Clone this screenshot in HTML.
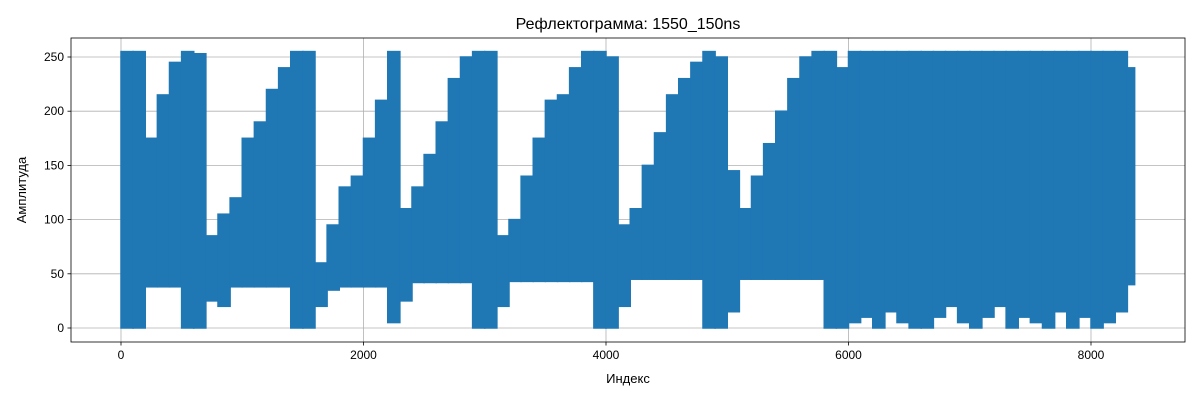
<!DOCTYPE html>
<html><head><meta charset="utf-8"><style>
body{margin:0;background:#fff;font-family:"Liberation Sans","DejaVu Sans",sans-serif}
svg text{font-family:"Liberation Sans","DejaVu Sans",sans-serif;fill:#000}
</style></head><body>
<svg id="chart" width="1200" height="400">
<rect x="0" y="0" width="1200" height="400" fill="#fff"/>
<g id="grid"></g><g id="marks"></g><g id="axes"></g>
<text x="628" y="29" font-size="16" text-anchor="middle">Рефлектограмма: 1550_150ns</text>
<text x="628" y="383" font-size="13" text-anchor="middle">Индекс</text>
<text x="26" y="190" font-size="13" text-anchor="middle" transform="rotate(-90 26 190)">Амплитуда</text>
</svg>
<script>
const binStarts=[0,100,200,300,400,500,600,700,800,900,1000,1100,1200,1300,1400,1500,1600,1700,1800,1900,2000,2100,2200,2300,2400,2500,2600,2700,2800,2900,3000,3100,3200,3300,3400,3500,3600,3700,3800,3900,4000,4100,4200,4300,4400,4500,4600,4700,4800,4900,5000,5100,5200,5300,5400,5500,5600,5700,5800,5900,6000,6100,6200,6300,6400,6500,6600,6700,6800,6900,7000,7100,7200,7300,7400,7500,7600,7700,7800,7900,8000,8100,8200,8300];
const lowValues=[0,0,38,38,38,0,0,25,20,38,38,38,38,38,0,0,20,35,38,38,38,38,5,25,42,42,42,42,42,0,0,20,43,43,43,43,43,43,43,0,0,20,45,45,45,45,45,45,0,0,15,45,45,45,45,45,45,45,0,0,5,10,0,15,5,0,0,10,20,5,0,10,20,0,10,5,0,15,0,10,0,5,15,40];
const highValues=[255,255,175,215,245,255,253,85,105,120,175,190,220,240,255,255,60,95,130,140,175,210,255,110,130,160,190,230,250,255,255,85,100,140,175,210,215,240,255,255,250,95,110,150,180,215,230,245,255,250,145,110,140,170,200,230,250,255,255,240,255,255,255,255,255,255,255,255,255,255,255,255,255,255,255,255,255,255,255,255,255,255,255,240];
const lastIndex=8360;
const xTicks=[0,2000,4000,6000,8000];
const yTicks=[0,50,100,150,200,250];
const L=71,R=1185,T=38,B=342;
const x=v=>121+v*0.12125;
const y=v=>328-v*1.084;
const NS="http://www.w3.org/2000/svg";
const mk=(t,a,p)=>{const e=document.createElementNS(NS,t);for(const k in a)e.setAttribute(k,a[k]);p.appendChild(e);return e;};
const grid=document.getElementById('grid'),marks=document.getElementById('marks'),axes=document.getElementById('axes');
xTicks.forEach(t=>{
 const g=mk('line',{x1:x(t),x2:x(t),y1:T,y2:B,stroke:'#b0b0b0','stroke-width':0.8},grid);
 
 
 mk('line',{x1:x(t),x2:x(t),y1:B,y2:B+3.5,stroke:'#000','stroke-width':0.8},axes);
 const tx=mk('text',{x:x(t),y:B+17,'font-size':12,'text-anchor':'middle'},axes);
 tx.textContent=t;
 
 
});
yTicks.forEach(t=>{
 const g=mk('line',{x1:L,x2:R,y1:y(t),y2:y(t),stroke:'#b0b0b0','stroke-width':0.8},grid);
 
 
 mk('line',{x1:L-3.5,x2:L,y1:y(t),y2:y(t),stroke:'#000','stroke-width':0.8},axes);
 const tx=mk('text',{x:L-7,y:y(t)+4,'font-size':12,'text-anchor':'end'},axes);
 tx.textContent=t;
 
 
});
binStarts.forEach((s,i)=>{
 const e=(i+1<binStarts.length)?binStarts[i+1]:lastIndex;
 const r=mk('rect',{x:x(s)-0.75,width:x(e)-x(s)+1.5,y:y(highValues[i])-0.75,height:y(lowValues[i])-y(highValues[i])+1.5,fill:'#1f77b4'},marks);
 
 
});
const fr=mk('rect',{x:L,y:T,width:R-L,height:B-T,fill:'none',stroke:'#000','stroke-width':0.8},axes);


</script>
</body></html>
